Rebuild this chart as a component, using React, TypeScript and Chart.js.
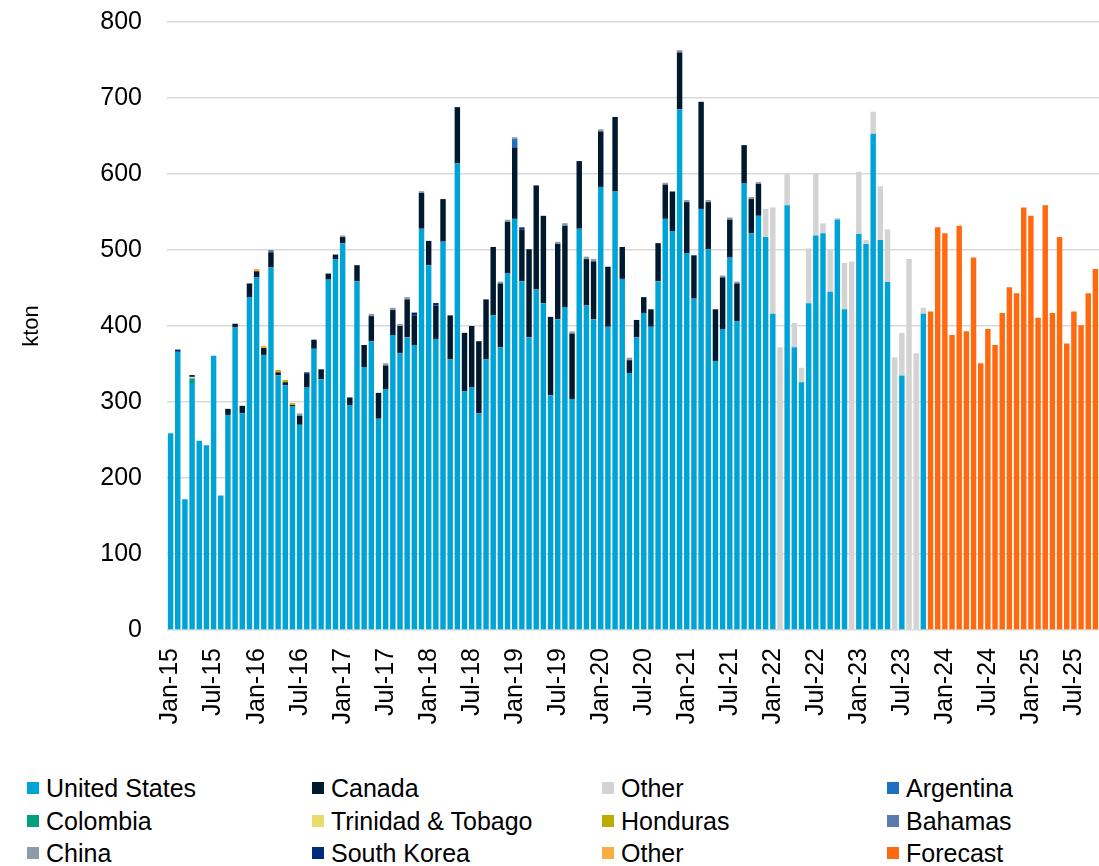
import React, { useEffect, useRef } from 'react';
import { Chart, registerables } from 'chart.js';

Chart.register(...registerables);

// ---------- categories (Jan-15 .. Oct-25) ----------
const yearSuffixes = ['15', '16', '17', '18', '19', '20', '21', '22', '23', '24', '25'];
const monthAbbr = ['Jan', 'Feb', 'Mar', 'Apr', 'May', 'Jun', 'Jul', 'Aug', 'Sep', 'Oct', 'Nov', 'Dec'];
const categories: string[] = yearSuffixes
  .flatMap((y) => monthAbbr.map((m) => `${m}-${y}`))
  .slice(0, 130);

// ---------- series values (kton) ----------
// United States, from Jan-15 (index 0)
const unitedStatesValues = [
  259, 366, 172, 325, 249, 243, 361, 177, 283, 398,
  285, 438, 464, 362, 477, 335, 322, 294, 270, 319,
  370, 330, 461, 488, 509, 296, 459, 346, 380, 278,
  317, 388, 364, 385, 375, 528, 480, 383, 511, 356,
  614, 314, 319, 285, 356, 414, 372, 469, 541, 459,
  385, 448, 430, 309, 409, 425, 304, 528, 427, 409,
  583, 399, 577, 462, 338, 385, 417, 399, 459, 541,
  525, 685, 496, 436, 554, 501, 354, 396, 490, 406,
  588, 522, 545, 517, 416, 0, 559, 372, 326, 430,
  519, 522, 445, 540, 422, 0, 521, 508, 653, 513,
  458, 0, 335, 0, 0, 416,
];
// Canada, from Jan-15 (index 0)
const canadaValues = [
  0, 0, 0, 0, 0, 0, 0, 0, 8, 5,
  10, 18, 8, 9, 20, 4, 4, 2, 12, 18,
  12, 13, 8, 6, 8, 10, 21, 29, 33, 34,
  31, 33, 36, 50, 39, 47, 32, 44, 56, 58,
  74, 77, 81, 95, 79, 90, 84, 68, 94, 68,
  116, 137, 115, 103, 99, 107, 86, 89, 61, 76,
  73, 79, 98, 42, 17, 23, 21, 23, 50, 45,
  52, 75, 67, 57, 141, 62, 68, 68, 50, 50,
  50, 45, 42,
];
// Other (grey), from Dec-21 (index 83)
const otherStart = 83;
const otherValues = [
  37, 140, 372, 42, 32, 19, 72, 82, 13, 56,
  2, 61, 485, 82, 5, 29, 71, 69, 359, 56,
  488, 364, 8,
];
// Small origins: { month index: kton }
const argentinaPoints: Record<number, number> = { 48: 11 };
const colombiaPoints: Record<number, number> = { 3: 6 };
const trinidadPoints: Record<number, number> = { 3: 2 };
const hondurasPoints: Record<number, number> = { 15: 3, 16: 3, 17: 2.5 };
const bahamasPoints: Record<number, number> = { 14: 3 };
const chinaPoints: Record<number, number> = {
  18: 3, 24: 2, 28: 3, 30: 3, 31: 3, 32: 3, 33: 3, 35: 2.4, 46: 2.4, 47: 2.8,
  48: 2.4, 54: 2.8, 55: 3.3, 56: 2.8, 58: 3.3, 59: 3.3, 60: 2.8, 64: 3.3, 69: 2.4,
  71: 3, 72: 2.8, 75: 2.8, 77: 2.4, 78: 2.8, 79: 2.4, 81: 2.8, 82: 2.4,
};
const southKoreaPoints: Record<number, number> = { 1: 3, 3: 2.5, 19: 2, 34: 3.7, 37: 3.3, 49: 2.8 };
const otherOrangePoints: Record<number, number> = { 12: 3, 13: 3 };
// Forecast, from Nov-23 (index 106)
const forecastStart = 106;
const forecastValues = [
  419, 530, 522, 388, 532, 393, 490, 351, 396, 375,
  417, 451, 443, 556, 545, 411, 559, 417, 517, 377,
  419, 401, 443, 475,
];

const yTicks = [0, 100, 200, 300, 400, 500, 600, 700, 800];

// ---------- helpers to align series on categories ----------
const fromStart = (start: number, vals: number[]) =>
  categories.map((_, i) => {
    const v = vals[i - start];
    return v ? v : null;
  });
const fromPoints = (pts: Record<number, number>) =>
  categories.map((_, i) => (pts[i] !== undefined ? pts[i] : null));

const FONT = "'Liberation Sans', Arial, sans-serif";

const seriesDefs = [
  { label: 'United States', color: '#00A3D5', data: fromStart(0, unitedStatesValues) },
  { label: 'Canada', color: '#00192E', data: fromStart(0, canadaValues) },
  { label: 'Other', color: '#D3D3D3', data: fromStart(otherStart, otherValues) },
  { label: 'Argentina', color: '#1E6FC2', data: fromPoints(argentinaPoints) },
  { label: 'Colombia', color: '#00A07A', data: fromPoints(colombiaPoints) },
  { label: 'Trinidad & Tobago', color: '#E8DC6C', data: fromPoints(trinidadPoints) },
  { label: 'Honduras', color: '#BDAC00', data: fromPoints(hondurasPoints) },
  { label: 'Bahamas', color: '#5B7BAE', data: fromPoints(bahamasPoints) },
  { label: 'China', color: '#8C9BA8', data: fromPoints(chinaPoints) },
  { label: 'South Korea', color: '#002A7A', data: fromPoints(southKoreaPoints) },
  { label: 'Other', color: '#F6AE40', data: fromPoints(otherOrangePoints) },
  { label: 'Forecast', color: '#FF6A10', data: fromStart(forecastStart, forecastValues) },
];

const legendCols = [27, 312, 602, 887];
const legendRows = [788, 821, 853];

export default function App() {
  const canvasRef = useRef<HTMLCanvasElement | null>(null);

  useEffect(() => {
    if (!canvasRef.current) return;
    const chart = new Chart(canvasRef.current, {
      type: 'bar',
      data: {
        labels: categories,
        datasets: seriesDefs.map((s) => ({
          label: s.label,
          data: s.data,
          backgroundColor: s.color,
          borderWidth: 0,
          barPercentage: 0.76,
          categoryPercentage: 1,
        })),
      },
      options: {
        responsive: false,
        animation: false,
        layout: { padding: { top: 22, right: 0, bottom: 0, left: 0 } },
        plugins: {
          legend: { display: false },
          tooltip: { enabled: false },
        },
        scales: {
          x: {
            stacked: true,
            grid: { display: false, drawTicks: false },
            border: { display: false },
            ticks: {
              autoSkip: false,
              minRotation: 90,
              maxRotation: 90,
              padding: 18,
              color: '#000',
              font: { family: FONT, size: 25 },
              callback: (_v: any, idx: number) => (idx % 6 === 0 ? categories[idx] : ''),
            },
            afterFit: (scale: any) => {
              scale.height = 110;
              scale.paddingLeft = 0;
              scale.paddingRight = 0;
            },
          },
          y: {
            stacked: true,
            min: 0,
            max: 800,
            afterBuildTicks: (scale: any) => {
              scale.ticks = yTicks.map((v) => ({ value: v }));
            },
            grid: { color: '#D9D9D9', lineWidth: 1.5, drawTicks: false },
            border: { display: false },
            ticks: {
              padding: 25,
              color: '#000',
              font: { family: FONT, size: 25 },
            },
            title: {
              display: true,
              text: 'kton',
              color: '#000',
              font: { family: FONT, size: 22 },
              padding: { top: 19, bottom: 0 },
            },
            afterFit: (scale: any) => {
              scale.width = 167;
              scale.paddingTop = 0;
              scale.paddingBottom = 0;
            },
          },
        },
      },
    });
    return () => chart.destroy();
  }, []);

  return (
    <div style={{ position: 'absolute', left: 0, top: 0, width: 1099, height: 866, overflow: 'hidden', background: '#fff' }}>
      <canvas ref={canvasRef} width={1099} height={740} style={{ display: 'block' }} />
      {seriesDefs.map((s, i) => (
        <div
          key={i}
          style={{
            position: 'absolute',
            left: legendCols[i % 4],
            top: legendRows[Math.floor(i / 4)] - 15,
            height: 30,
            display: 'flex',
            alignItems: 'center',
            fontFamily: FONT,
            fontSize: 25,
            lineHeight: '30px',
            color: '#000',
            whiteSpace: 'nowrap',
          }}
        >
          <span style={{ display: 'inline-block', width: 12, height: 12, background: s.color, marginRight: 7 }} />
          <span>{s.label}</span>
        </div>
      ))}
    </div>
  );
}
